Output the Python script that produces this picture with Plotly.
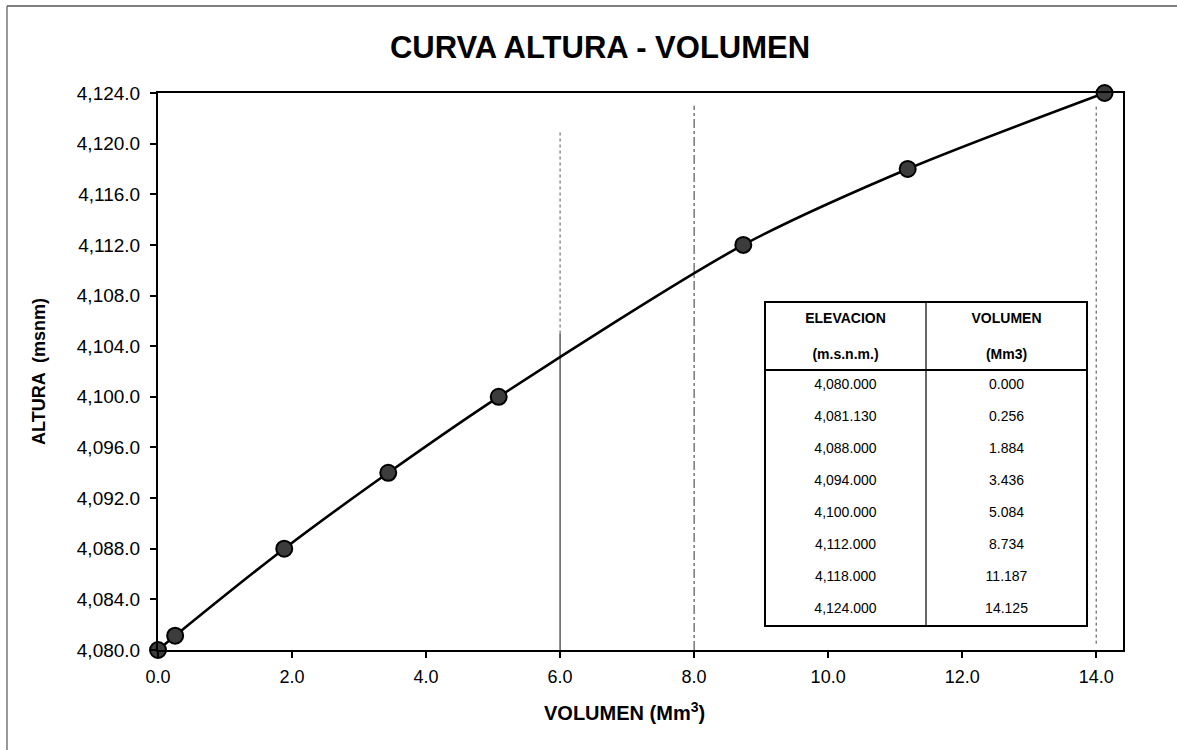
import plotly.graph_objects as go

# ---------------- data ----------------
elevacion = [4080.000, 4081.130, 4088.000, 4094.000, 4100.000, 4112.000, 4118.000, 4124.000]
volumen = [0.000, 0.256, 1.884, 3.436, 5.084, 8.734, 11.187, 14.125]
guide_x = [6, 8, 14]          # faint vertical guide lines seen on the scan
x_ticks = [0, 2, 4, 6, 8, 10, 12, 14]
y_ticks = [4080, 4084, 4088, 4092, 4096, 4100, 4104, 4108, 4112, 4116, 4120, 4124]

title_text = "CURVA ALTURA - VOLUMEN"
x_title = "VOLUMEN (Mm<sup>3</sup>)"
y_title = "ALTURA  (msnm)"
col_headers = ["<b>ELEVACION</b>", "<b>VOLUMEN</b>"]
col_units = ["<b>(m.s.n.m.)</b>", "<b>(Mm3)</b>"]

# ---------------- layout constants ----------------
W, H = 1177, 750
ML, MR, MT, MB = 158, 54, 93, 100
PW, PH = W - ML - MR, H - MT - MB
FONT = "Liberation Sans, Arial, Helvetica, sans-serif"


def px_x(px):
    return (px - ML) / PW


def px_y(py):
    return (H - MB - py) / PH


# table geometry (pixels)
T_LEFT, T_RIGHT, T_TOP = 765, 1087, 302
HDR_H, ROW_H = 36, 32
T_BOTTOM = T_TOP + HDR_H + ROW_H * (len(elevacion) + 1)

fig = go.Figure()

# curve
fig.add_trace(go.Scatter(
    x=volumen, y=elevacion, mode="lines+markers",
    line=dict(color="black", width=2.6, shape="spline", smoothing=0.8),
    marker=dict(size=16, color="#3c3c3c", line=dict(color="black", width=2)),
    showlegend=False, cliponaxis=False, hoverinfo="x+y",
))

# table
col1 = [col_units[0]] + [f"{e:,.3f}" for e in elevacion]
col2 = [col_units[1]] + [f"{v:.3f}" for v in volumen]
fig.add_trace(go.Table(
    domain=dict(x=[px_x(T_LEFT), px_x(T_RIGHT)], y=[px_y(T_BOTTOM), px_y(T_TOP)]),
    columnwidth=[1, 1],
    header=dict(values=col_headers, height=HDR_H, align="center",
                fill_color="white", line=dict(color="white", width=0.5),
                font=dict(family=FONT, size=14, color="black")),
    cells=dict(values=[col1, col2], height=ROW_H, align="center",
               fill_color="white", line=dict(color="white", width=0.5),
               font=dict(family=FONT, size=14, color="black")),
))

shapes = []
# guide lines (scan artefacts of the original gridlines)
for gx in guide_x:
    if gx == 6:
        shapes.append(dict(type="line", xref="x", yref="y", x0=gx, x1=gx, y0=4080, y1=4105,
                           line=dict(color="#333333", width=1.2), layer="below"))
        shapes.append(dict(type="line", xref="x", yref="y", x0=gx, x1=gx, y0=4105, y1=4121,
                           line=dict(color="#555555", width=1, dash="dot"), layer="below"))
    elif gx == 8:
        shapes.append(dict(type="line", xref="x", yref="y", x0=gx, x1=gx, y0=4080, y1=4123,
                           line=dict(color="#333333", width=1, dash="dashdot"), layer="below"))
    else:
        shapes.append(dict(type="line", xref="x", yref="y", x0=gx, x1=gx, y0=4080.5, y1=4123,
                           line=dict(color="#444444", width=1, dash="dot"), layer="below"))

# table borders
tx0, tx1 = px_x(T_LEFT), px_x(T_RIGHT)
ty0, ty1 = px_y(T_BOTTOM), px_y(T_TOP)
shapes.append(dict(type="rect", xref="paper", yref="paper", x0=tx0, x1=tx1, y0=ty0, y1=ty1,
                   line=dict(color="black", width=2)))
shapes.append(dict(type="line", xref="paper", yref="paper", x0=(tx0 + tx1) / 2, x1=(tx0 + tx1) / 2,
                   y0=ty0, y1=ty1, line=dict(color="black", width=1.2)))
hy = px_y(T_TOP + HDR_H + ROW_H)
shapes.append(dict(type="line", xref="paper", yref="paper", x0=tx0, x1=tx1, y0=hy, y1=hy,
                   line=dict(color="black", width=2)))

# page border (scan frame)
shapes.append(dict(type="line", xref="paper", yref="paper", x0=px_x(7), x1=px_x(7),
                   y0=px_y(6), y1=px_y(752), line=dict(color="#777777", width=1.5)))
shapes.append(dict(type="line", xref="paper", yref="paper", x0=px_x(7), x1=px_x(1180),
                   y0=px_y(6), y1=px_y(6), line=dict(color="#555555", width=1.5)))

fig.update_layout(
    width=W, height=H,
    margin=dict(l=ML, r=MR, t=MT, b=MB),
    paper_bgcolor="white", plot_bgcolor="white",
    font=dict(family=FONT, color="black"),
    title=dict(text=f"<b>{title_text}</b>", x=600 / W, xanchor="center",
               y=1 - 47 / H, yanchor="middle", font=dict(size=31, family=FONT, color="black")),
    shapes=shapes,
    annotations=[dict(text=f"<b>{x_title}</b>", xref="paper", yref="paper",
                      x=px_x(624), y=px_y(711), xanchor="center", yanchor="middle",
                      showarrow=False, font=dict(size=20, family=FONT, color="black"))],
    showlegend=False,
)

fig.update_xaxes(
    range=[0, 14.4], tickvals=x_ticks, tickformat=".1f",
    showgrid=False, zeroline=False,
    showline=True, linecolor="black", linewidth=2, mirror=True,
    ticks="outside", ticklen=6, tickcolor="black", tickwidth=1.5,
    tickfont=dict(size=18, family=FONT, color="black"),
    ticklabelstandoff=3,
)
fig.update_yaxes(
    range=[4080, 4124], tickvals=y_ticks, tickformat=",.1f",
    showgrid=False, zeroline=False,
    showline=True, linecolor="black", linewidth=2, mirror=True,
    ticks="outside", ticklen=6, tickcolor="black", tickwidth=1.5,
    tickfont=dict(size=19, family=FONT, color="black"),
    ticklabelstandoff=6,
    title=dict(text=f"<b>{y_title}</b>", font=dict(size=18, family=FONT, color="black"), standoff=26),
)

fig.write_html("out.html", config={"displayModeBar": False},
               post_script="document.body.style.margin='0';")
